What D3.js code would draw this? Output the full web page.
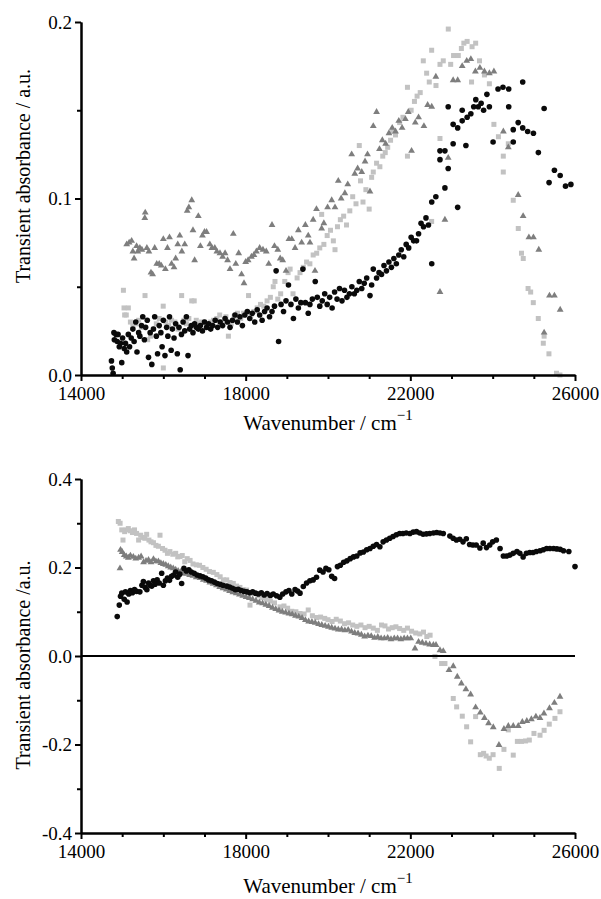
<!DOCTYPE html>
<html lang="en">
<head>
    <meta charset="UTF-8">
    <title>Transient absorbance spectra</title>
    <script src="https://d3js.org/d3.v7.min.js" charset="utf-8"></script>
    <style>
        body { margin: 0; background: white; }
        svg { display: block; background: white; }
        .axis path, .axis line { stroke: black; stroke-width: 2px; }
    </style>
</head>
<body>
<div id="chart"></div>
<script>
    // x tick labels and y tick values for both panels
    var xMajorTicks = [14000, 18000, 22000, 26000];
    var xMinorTicks = [15000, 16000, 17000, 19000, 20000, 21000, 23000, 24000, 25000];
    var topYTicks = [0.0, 0.1, 0.2];
    var topYMinor = [0.05, 0.15];
    var botYTicks = [-0.4, -0.2, 0.0, 0.2, 0.4];
    var botYMinor = [-0.3, -0.1, 0.1, 0.3];

    // top panel, black circles: [wavenumber, absorbance]
    var topCircles = [[14740,0.008],[14760,0.004],[14780,0.001],[14800,0.024],[14810,0.020],[14850,0.023],[14880,0.019],[14900,0.023],[14930,0.016],[14960,0.018],[14990,0.007],[15010,0.021],[15050,0.015],[15080,0.018],[15110,0.013],[15150,0.023],[15180,0.016],[15220,0.021],[15260,0.026],[15290,0.019],[15330,0.030],[15360,0.013],[15400,0.024],[15430,0.022],[15470,0.028],[15500,0.033],[15540,0.020],[15570,0.027],[15610,0.031],[15640,0.010],[15680,0.024],[15720,0.006],[15760,0.026],[15790,0.033],[15830,0.022],[15860,0.012],[15900,0.028],[15940,0.024],[15970,0.016],[16000,0.031],[16040,0.011],[16080,0.027],[16110,0.022],[16150,0.033],[16190,0.014],[16220,0.026],[16260,0.021],[16300,0.029],[16340,0.012],[16380,0.027],[16410,0.003],[16440,0.023],[16480,0.030],[16520,0.025],[16560,0.033],[16600,0.011],[16640,0.026],[16680,0.028],[16720,0.024],[16760,0.029],[16800,0.027],[16850,0.026],[16900,0.028],[16950,0.025],[17000,0.030],[17050,0.027],[17100,0.029],[17150,0.026],[17200,0.028],[17260,0.031],[17320,0.027],[17380,0.030],[17440,0.028],[17500,0.032],[17560,0.030],[17620,0.027],[17680,0.031],[17740,0.034],[17800,0.030],[17860,0.033],[17920,0.028],[17980,0.034],[18040,0.036],[18100,0.032],[18160,0.035],[18220,0.030],[18280,0.037],[18340,0.034],[18400,0.031],[18460,0.036],[18520,0.038],[18580,0.033],[18640,0.036],[18700,0.039],[18740,0.059],[18800,0.019],[18860,0.040],[18920,0.036],[18980,0.042],[19040,0.051],[19100,0.040],[19160,0.032],[19220,0.043],[19280,0.038],[19340,0.041],[19390,0.060],[19450,0.041],[19520,0.035],[19560,0.040],[19620,0.043],[19690,0.053],[19740,0.044],[19800,0.039],[19860,0.042],[19920,0.046],[19980,0.040],[20040,0.044],[20100,0.038],[20160,0.047],[20220,0.043],[20280,0.049],[20340,0.042],[20400,0.048],[20460,0.044],[20520,0.046],[20580,0.050],[20640,0.046],[20700,0.048],[20760,0.053],[20820,0.049],[20880,0.052],[20940,0.055],[21020,0.045],[21060,0.051],[21100,0.060],[21180,0.055],[21240,0.058],[21300,0.057],[21360,0.062],[21420,0.059],[21480,0.064],[21540,0.061],[21600,0.066],[21660,0.063],[21720,0.068],[21780,0.071],[21840,0.067],[21900,0.074],[21960,0.072],[22020,0.078],[22080,0.076],[22150,0.076],[22200,0.080],[22260,0.086],[22320,0.084],[22380,0.089],[22440,0.085],[22520,0.098],[22520,0.063],[22620,0.101],[22720,0.127],[22720,0.122],[22840,0.127],[22920,0.117],[22840,0.106],[22920,0.152],[23040,0.142],[23040,0.131],[23150,0.140],[23150,0.095],[23260,0.150],[23260,0.144],[23350,0.130],[23380,0.146],[23470,0.148],[23590,0.156],[23540,0.152],[23650,0.152],[23720,0.154],[23780,0.150],[23860,0.159],[23920,0.152],[24010,0.132],[24130,0.162],[24250,0.163],[24390,0.162],[24390,0.152],[24500,0.132],[24500,0.139],[24620,0.143],[24730,0.166],[24730,0.140],[24850,0.138],[24990,0.137],[25110,0.126],[25250,0.151],[25370,0.109],[25500,0.116],[25640,0.113],[25770,0.107],[25900,0.108]];

    // top panel, grey triangles
    var topTriangles = [[15110,0.074],[15170,0.075],[15230,0.076],[15260,0.070],[15290,0.066],[15350,0.073],[15380,0.070],[15430,0.072],[15480,0.071],[15550,0.089],[15560,0.092],[15600,0.072],[15650,0.070],[15700,0.058],[15740,0.057],[15790,0.072],[15840,0.063],[15900,0.063],[15950,0.062],[16000,0.077],[16050,0.060],[16100,0.072],[16150,0.078],[16200,0.063],[16260,0.061],[16300,0.066],[16350,0.074],[16400,0.079],[16450,0.070],[16520,0.074],[16580,0.093],[16620,0.095],[16690,0.099],[16720,0.082],[16760,0.065],[16850,0.090],[16900,0.073],[16950,0.079],[17000,0.081],[17050,0.081],[17130,0.074],[17180,0.072],[17250,0.072],[17300,0.070],[17376,0.069],[17440,0.067],[17500,0.069],[17560,0.065],[17620,0.060],[17700,0.080],[17760,0.063],[17830,0.069],[17900,0.057],[17960,0.052],[18000,0.064],[18060,0.065],[18140,0.067],[18200,0.068],[18260,0.070],[18340,0.072],[18420,0.071],[18500,0.070],[18560,0.063],[18640,0.085],[18700,0.073],[18780,0.071],[18840,0.066],[18900,0.065],[18980,0.059],[19050,0.077],[19120,0.077],[19200,0.072],[19280,0.082],[19360,0.075],[19450,0.085],[19520,0.079],[19562,0.075],[19640,0.088],[19684,0.059],[19720,0.094],[19846,0.083],[19900,0.086],[19990,0.095],[20090,0.099],[20170,0.095],[20250,0.110],[20320,0.100],[20410,0.103],[20480,0.108],[20575,0.125],[20650,0.114],[20720,0.117],[20820,0.115],[20900,0.121],[20960,0.125],[21020,0.104],[21100,0.141],[21180,0.149],[21250,0.128],[21320,0.133],[21400,0.131],[21480,0.137],[21560,0.140],[21640,0.138],[21720,0.144],[21800,0.140],[21880,0.145],[21950,0.149],[22030,0.127],[22120,0.143],[22200,0.146],[22330,0.141],[22420,0.153],[22520,0.152],[22620,0.169],[22720,0.047],[22840,0.088],[22920,0.123],[23040,0.167],[23150,0.167],[23260,0.175],[23370,0.178],[23470,0.179],[23580,0.172],[23690,0.174],[23800,0.172],[23920,0.171],[24030,0.172],[24260,0.138],[24380,0.129],[24620,0.102],[24740,0.090],[24880,0.078],[24990,0.078],[25120,0.071],[25250,0.024],[25380,0.045],[25500,0.045],[25640,0.037]];

    // top panel, light grey squares
    var topSquares = [[15030,0.048],[15045,0.038],[15060,0.034],[15100,0.034],[15150,0.038],[15200,0.030],[15260,0.028],[15330,0.029],[15400,0.031],[15470,0.027],[15555,0.045],[15620,0.020],[15690,0.022],[15760,0.026],[15830,0.029],[15900,0.032],[15997,0.039],[16000,0.004],[16060,0.030],[16130,0.028],[16200,0.031],[16280,0.030],[16360,0.026],[16445,0.045],[16500,0.031],[16560,0.029],[16620,0.032],[16690,0.042],[16750,0.042],[16800,0.031],[16860,0.029],[16930,0.030],[17000,0.030],[17080,0.029],[17150,0.030],[17220,0.031],[17300,0.032],[17370,0.034],[17440,0.030],[17520,0.033],[17580,0.022],[17650,0.029],[17720,0.033],[17800,0.035],[17880,0.032],[17950,0.035],[18070,0.045],[18130,0.034],[18200,0.036],[18280,0.038],[18360,0.040],[18440,0.039],[18520,0.042],[18600,0.044],[18670,0.050],[18712,0.053],[18780,0.043],[18850,0.046],[18950,0.053],[19030,0.058],[19080,0.060],[19150,0.046],[19250,0.055],[19320,0.058],[19400,0.061],[19480,0.064],[19560,0.063],[19640,0.068],[19725,0.069],[19800,0.072],[19846,0.091],[19900,0.074],[19980,0.079],[20060,0.082],[20130,0.076],[20170,0.071],[20230,0.084],[20300,0.088],[20380,0.090],[20450,0.085],[20530,0.093],[20600,0.101],[20680,0.097],[20760,0.130],[20790,0.110],[20850,0.098],[20920,0.105],[21000,0.094],[21060,0.112],[21100,0.115],[21180,0.120],[21260,0.118],[21330,0.124],[21390,0.126],[21450,0.129],[21520,0.133],[21570,0.138],[21640,0.136],[21740,0.143],[21820,0.146],[21930,0.163],[21930,0.124],[22020,0.150],[22100,0.155],[22164,0.158],[22240,0.160],[22315,0.178],[22396,0.171],[22460,0.166],[22518,0.184],[22518,0.087],[22623,0.164],[22720,0.134],[22720,0.176],[22800,0.178],[22922,0.196],[22980,0.176],[23050,0.181],[23165,0.181],[23240,0.185],[23300,0.188],[23380,0.189],[23487,0.166],[23500,0.186],[23587,0.188],[23680,0.178],[23800,0.170],[23920,0.165],[24030,0.142],[24140,0.135],[24258,0.115],[24258,0.124],[24380,0.131],[24500,0.099],[24622,0.083],[24700,0.069],[24743,0.066],[24860,0.049],[24923,0.047],[24987,0.041],[25108,0.032],[25230,0.018],[25250,0.022],[25367,0.012],[25550,0.001],[25635,0.000]];

    // bottom panel, black circles
    var botCircles = [[14880,0.089],[14930,0.115],[14960,0.135],[14990,0.142],[15050,0.128],[15080,0.145],[15120,0.122],[15160,0.140],[15200,0.148],[15250,0.143],[15300,0.150],[15350,0.146],[15430,0.145],[15480,0.160],[15515,0.168],[15560,0.155],[15600,0.150],[15640,0.165],[15680,0.160],[15720,0.158],[15760,0.170],[15800,0.162],[15850,0.172],[15900,0.165],[15960,0.187],[16000,0.160],[16050,0.170],[16100,0.176],[16150,0.171],[16200,0.180],[16250,0.183],[16300,0.190],[16350,0.178],[16400,0.185],[16445,0.164],[16500,0.198],[16560,0.192],[16620,0.195],[16680,0.190],[16750,0.187],[16820,0.183],[16890,0.181],[16960,0.179],[17030,0.176],[17100,0.172],[17170,0.170],[17240,0.167],[17310,0.164],[17380,0.162],[17450,0.160],[17540,0.158],[17610,0.156],[17680,0.153],[17750,0.150],[17820,0.151],[17890,0.148],[17960,0.146],[18030,0.145],[18100,0.143],[18170,0.145],[18240,0.142],[18310,0.140],[18380,0.143],[18450,0.138],[18520,0.141],[18600,0.137],[18670,0.140],[18750,0.136],[18830,0.133],[18900,0.140],[18980,0.145],[19050,0.148],[19120,0.140],[19200,0.150],[19260,0.147],[19320,0.142],[19400,0.157],[19480,0.165],[19560,0.170],[19640,0.172],[19720,0.178],[19800,0.194],[19880,0.190],[19950,0.198],[20020,0.195],[20090,0.180],[20160,0.175],[20230,0.202],[20300,0.205],[20380,0.212],[20460,0.215],[20540,0.220],[20620,0.224],[20700,0.226],[20780,0.233],[20860,0.235],[20940,0.240],[21020,0.243],[21100,0.248],[21180,0.252],[21260,0.247],[21340,0.258],[21420,0.262],[21500,0.266],[21580,0.270],[21660,0.274],[21740,0.277],[21820,0.277],[21900,0.278],[21990,0.277],[22070,0.280],[22150,0.281],[22230,0.278],[22310,0.275],[22390,0.276],[22470,0.277],[22560,0.278],[22640,0.279],[22720,0.278],[22800,0.277],[22960,0.271],[23040,0.266],[23120,0.262],[23200,0.264],[23280,0.258],[23360,0.265],[23440,0.252],[23520,0.251],[23600,0.251],[23690,0.244],[23770,0.255],[23850,0.245],[23930,0.251],[24000,0.258],[24090,0.262],[24180,0.243],[24260,0.226],[24340,0.226],[24420,0.228],[24500,0.232],[24590,0.236],[24660,0.232],[24740,0.224],[24820,0.232],[24900,0.234],[24980,0.234],[25060,0.236],[25150,0.238],[25230,0.240],[25310,0.243],[25390,0.243],[25480,0.243],[25560,0.242],[25640,0.241],[25720,0.238],[25850,0.236],[26000,0.202]];

    // bottom panel, grey triangles
    var botTriangles = [[14947,0.198],[14960,0.240],[15000,0.235],[15050,0.228],[15100,0.225],[15150,0.222],[15200,0.227],[15271,0.224],[15330,0.220],[15400,0.222],[15460,0.225],[15520,0.212],[15580,0.215],[15640,0.217],[15700,0.212],[15760,0.219],[15820,0.214],[15880,0.214],[15940,0.210],[16000,0.208],[16060,0.206],[16120,0.203],[16180,0.200],[16240,0.198],[16300,0.195],[16360,0.192],[16420,0.190],[16486,0.187],[16560,0.186],[16640,0.183],[16720,0.181],[16800,0.178],[16890,0.176],[16970,0.172],[17050,0.170],[17130,0.166],[17210,0.163],[17290,0.160],[17370,0.156],[17450,0.153],[17530,0.150],[17610,0.147],[17690,0.144],[17770,0.142],[17850,0.139],[17930,0.136],[18010,0.133],[18090,0.131],[18170,0.128],[18250,0.125],[18330,0.121],[18410,0.119],[18490,0.116],[18570,0.113],[18650,0.109],[18730,0.106],[18810,0.103],[18890,0.100],[18970,0.098],[19050,0.096],[19130,0.094],[19210,0.091],[19290,0.089],[19370,0.086],[19450,0.081],[19530,0.078],[19610,0.077],[19690,0.075],[19770,0.072],[19850,0.070],[19930,0.068],[20010,0.066],[20090,0.064],[20170,0.062],[20250,0.060],[20330,0.060],[20410,0.058],[20490,0.059],[20570,0.055],[20650,0.052],[20730,0.051],[20810,0.048],[20890,0.044],[20970,0.046],[21050,0.045],[21130,0.041],[21210,0.043],[21290,0.040],[21370,0.040],[21450,0.041],[21530,0.038],[21610,0.040],[21690,0.040],[21770,0.038],[21850,0.040],[21930,0.040],[22010,0.040],[22113,0.017],[22200,0.032],[22290,0.030],[22380,0.028],[22470,0.026],[22560,0.025],[22623,0.025],[22720,0.013],[22800,0.011],[22939,-0.032],[23043,-0.023],[23140,-0.047],[23240,-0.062],[23350,-0.075],[23465,-0.087],[23586,-0.116],[23700,-0.128],[23800,-0.140],[23900,-0.152],[24015,-0.161],[24153,-0.201],[24274,-0.165],[24380,-0.158],[24500,-0.158],[24622,-0.158],[24720,-0.149],[24830,-0.147],[24940,-0.143],[25050,-0.137],[25150,-0.140],[25246,-0.130],[25380,-0.118],[25500,-0.106],[25635,-0.092]];

    // bottom panel, light grey squares
    var botSquares = [[14907,0.304],[14950,0.300],[14990,0.285],[15020,0.262],[15060,0.281],[15100,0.285],[15150,0.288],[15200,0.283],[15250,0.279],[15300,0.285],[15350,0.277],[15400,0.262],[15450,0.273],[15500,0.268],[15550,0.266],[15595,0.275],[15650,0.262],[15700,0.258],[15760,0.256],[15820,0.250],[15880,0.248],[15919,0.273],[15980,0.243],[16040,0.239],[16100,0.232],[16160,0.236],[16230,0.230],[16300,0.232],[16350,0.224],[16405,0.225],[16460,0.227],[16520,0.213],[16580,0.220],[16650,0.216],[16720,0.208],[16800,0.206],[16880,0.205],[16960,0.200],[17040,0.196],[17120,0.191],[17214,0.189],[17300,0.184],[17380,0.179],[17460,0.172],[17540,0.172],[17620,0.166],[17700,0.164],[17780,0.158],[17860,0.155],[17940,0.150],[18024,0.149],[18105,0.115],[18200,0.141],[18300,0.136],[18400,0.132],[18500,0.128],[18600,0.124],[18700,0.120],[18834,0.111],[18930,0.113],[19020,0.108],[19120,0.101],[19220,0.100],[19320,0.096],[19420,0.095],[19520,0.104],[19620,0.091],[19720,0.087],[19820,0.088],[19920,0.085],[20000,0.082],[20100,0.078],[20200,0.083],[20300,0.079],[20400,0.073],[20500,0.075],[20600,0.070],[20700,0.067],[20800,0.070],[20900,0.064],[21000,0.067],[21100,0.063],[21200,0.058],[21300,0.070],[21384,0.068],[21470,0.061],[21560,0.064],[21650,0.066],[21740,0.062],[21840,0.058],[21930,0.063],[22030,0.056],[22130,0.052],[22230,0.050],[22320,0.054],[22400,0.044],[22480,0.047],[22598,-0.001],[22760,-0.017],[22841,-0.017],[23043,-0.096],[23125,-0.115],[23262,-0.136],[23368,-0.160],[23465,-0.194],[23586,-0.137],[23700,-0.223],[23780,-0.220],[23840,-0.226],[23918,-0.231],[24010,-0.223],[24160,-0.254],[24274,-0.211],[24380,-0.167],[24500,-0.224],[24600,-0.193],[24700,-0.193],[24800,-0.192],[24890,-0.190],[25003,-0.175],[25150,-0.179],[25250,-0.168],[25375,-0.154],[25513,-0.141],[25635,-0.126]];

    var svgwidth = 601;
    var svgheight = 899;
    var left = 81, right = 575;
    var serif = '"Liberation Serif", "DejaVu Serif", "Times New Roman", serif';

    var svg = d3.select('#chart').append('svg')
        .attr('width', svgwidth)
        .attr('height', svgheight);

    var x = d3.scaleLinear().domain([14000, 26000]).range([left, right]);
    var fmt = function(d) { return d.toFixed(1); };

    function drawPanel(yScale, yTicks, yMinor, squares, triangles, circles, zeroLine, bottomY, titleY, yTitleCenter, yTitle) {
        var g = svg.append('g');

        // squares first, then triangles, circles on top
        g.selectAll(null).data(squares).enter().append('rect')
            .attr('x', function(d) { return x(d[0]) - 2.5; })
            .attr('y', function(d) { return yScale(d[1]) - 2.5; })
            .attr('width', 5)
            .attr('height', 5)
            .attr('fill', '#c2c2c2');

        g.selectAll(null).data(triangles).enter().append('path')
            .attr('d', d3.symbol().type(d3.symbolTriangle).size(20))
            .attr('transform', function(d) { return 'translate(' + x(d[0]) + ',' + yScale(d[1]) + ')'; })
            .attr('fill', '#7e7e7e');

        g.selectAll(null).data(circles).enter().append('circle')
            .attr('cx', function(d) { return x(d[0]); })
            .attr('cy', function(d) { return yScale(d[1]); })
            .attr('r', 2.8)
            .attr('fill', '#0a0a0a');

        if (zeroLine) {
            g.append('line')
                .attr('x1', left).attr('x2', right)
                .attr('y1', yScale(0)).attr('y2', yScale(0))
                .attr('stroke', 'black').attr('stroke-width', 2);
        }

        // y axis with minor ticks
        g.append('g').attr('class', 'axis')
            .attr('transform', 'translate(' + left + ',0)')
            .call(d3.axisLeft(yScale).tickValues(yMinor).tickSize(4).tickSizeOuter(0).tickFormat(''));
        g.append('g').attr('class', 'axis')
            .attr('transform', 'translate(' + left + ',0)')
            .call(d3.axisLeft(yScale).tickValues(yTicks).tickSize(6).tickSizeOuter(0).tickPadding(3).tickFormat(fmt));

        // x axis with minor ticks
        g.append('g').attr('class', 'axis')
            .attr('transform', 'translate(0,' + bottomY + ')')
            .call(d3.axisBottom(x).tickValues(xMinorTicks).tickSize(4).tickSizeOuter(0).tickFormat(''));
        g.append('g').attr('class', 'axis')
            .attr('transform', 'translate(0,' + bottomY + ')')
            .call(d3.axisBottom(x).tickValues(xMajorTicks).tickSize(6).tickSizeOuter(0).tickPadding(6).tickFormat(d3.format('d')));

        g.selectAll('.axis').attr('font-family', serif).attr('font-size', 19);
        g.selectAll('.axis text').style('font-family', serif).style('font-size', '19px').attr('fill', 'black');

        // axis titles
        var xt = g.append('text')
            .style('font-family', serif).style('font-size', '21px')
            .attr('x', 328).attr('y', titleY)
            .attr('text-anchor', 'middle');
        xt.append('tspan').text('Wavenumber / cm');
        xt.append('tspan').attr('dy', -10).style('font-size', '15px').text('\u22121');

        g.append('text')
            .style('font-family', serif).style('font-size', '20px')
            .attr('transform', 'translate(30,' + yTitleCenter + ') rotate(-90)')
            .attr('text-anchor', 'middle')
            .text(yTitle);
    }

    var yTop = d3.scaleLinear().domain([0, 0.2]).range([375, 22]);
    var yBot = d3.scaleLinear().domain([-0.4, 0.4]).range([833, 479]);

    drawPanel(yTop, topYTicks, topYMinor, topSquares, topTriangles, topCircles, false, 375, 430, 176, 'Transient absorbance / a.u.');
    drawPanel(yBot, botYTicks, botYMinor, botSquares, botTriangles, botCircles, true, 833, 893, 665, 'Transient absorbance  /a.u.');
</script>
</body>
</html>
